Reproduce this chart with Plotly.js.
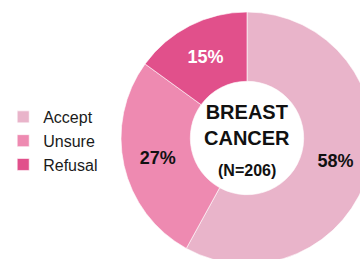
<!DOCTYPE html>
<html>
<head>
<meta charset="utf-8">
<script src="https://cdn.plot.ly/plotly-3.0.1.min.js"></script>
<style>
html,body{margin:0;padding:0;overflow:hidden;background:#fff;width:360px;height:259px;}
#chart{width:400px;height:280px;}
</style>
</head>
<body>
<div id="chart"></div>
<script>
const categories = ["Accept", "Unsure", "Refusal"];
const shares = [58, 27, 15];
const sliceColors = ["#e9b4ca", "#ee8ab1", "#e1508b"];
const labelColors = ["#111111", "#111111", "#ffffff"];
const centerTitle = "BREAST<br>CANCER";
const centerSub = "(N=206)";

const W = 400, H = 280;
const cx = 247, cy = 138, R = 126;

const trace = {
  type: "pie",
  labels: categories,
  values: shares,
  sort: false,
  direction: "clockwise",
  rotation: 0,
  hole: 0.45,
  marker: {colors: sliceColors, line: {color: "rgba(255,255,255,0.6)", width: 1}},
  textinfo: "percent",
  textposition: "inside",
  insidetextorientation: "horizontal",
  texttemplate: "%{percent:.0%}",
  insidetextfont: {family: "Liberation Sans, Arial, sans-serif", size: 18, color: labelColors, weight: "bold"},
  hoverinfo: "none",
  domain: {x: [(cx - R) / W, (cx + R) / W], y: [(H - cy - R) / H, (H - cy + R) / H]}
};

const layout = {
  width: W, height: H,
  margin: {l: 0, r: 0, t: 0, b: 0},
  paper_bgcolor: "#ffffff",
  showlegend: true,
  uniformtext: {mode: "show", minsize: 18},
  legend: {
    x: 0.008, y: 0.643, xanchor: "left", yanchor: "top",
    font: {family: "Liberation Sans, Arial, sans-serif", size: 16, color: "#1a1a1a"},
    bgcolor: "rgba(0,0,0,0)", borderwidth: 0
  },
  annotations: [
    {text: "<b>" + centerTitle + "</b>", x: cx / W, y: 1 - 125.5 / H, xref: "paper", yref: "paper",
     showarrow: false, xanchor: "center", yanchor: "middle",
     font: {family: "Liberation Sans, Arial, sans-serif", size: 20, color: "#111"}},
    {text: "<b>" + centerSub + "</b>", x: cx / W, y: 1 - 170 / H, xref: "paper", yref: "paper",
     showarrow: false, xanchor: "center", yanchor: "middle",
     font: {family: "Liberation Sans, Arial, sans-serif", size: 16, color: "#111"}}
  ]
};

Plotly.newPlot("chart", [trace], layout, {staticPlot: true, displayModeBar: false});
</script>
</body>
</html>
